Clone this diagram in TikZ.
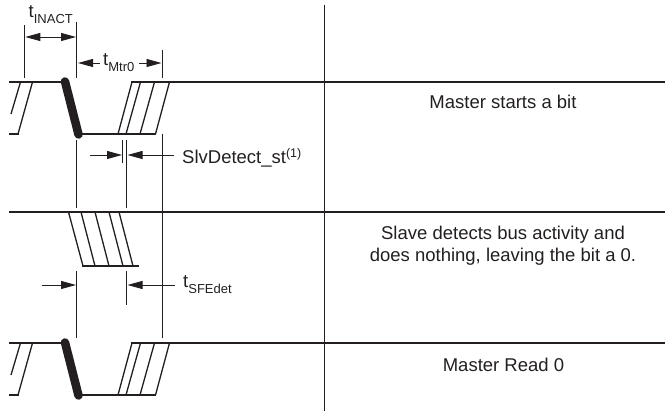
\documentclass[tikz,border=0pt]{standalone}
\usepackage{fontspec}
\setmainfont{Liberation Sans}
\usetikzlibrary{arrows.meta}
\definecolor{ink}{HTML}{231F20}
\newcommand{\lowsub}[1]{\raisebox{-6pt}{\fontsize{13}{13}\selectfont #1}}
\newcommand{\highsup}[1]{\raisebox{6pt}{\fontsize{12.5}{13}\selectfont #1}}
\tikzset{
  x=1pt,y=-1pt,
  bus/.style={line width=1.7pt,line cap=butt},
  thin line/.style={line width=0.95pt},
  edge line/.style={line width=1.3pt},
  thick edge/.style={line width=8.5pt,line cap=round},
  dim/.style={line width=0.85pt,-{Triangle[length=15pt,width=8pt]}},
  lab/.style={inner sep=0pt,text=ink,font=\fontsize{18.5}{22}\selectfont,align=center,anchor=base},
  tlab/.style={inner sep=0pt,text=ink,anchor=base west,font=\fontsize{18.5}{22}\selectfont}
}
\newcommand{\wave}[1]{%
 \begin{scope}[yshift=#1]
  \draw[bus] (9,82) -- (62,82);
  \draw[bus] (131,82) -- (665,82);
  \draw[bus] (80,134) -- (156,134);
  \draw[bus] (9,134) -- (18.5,134);
  \draw[edge line] (20.5,82) -- (11,114);
  \draw[edge line] (32.5,82) -- (18,134);
  \draw[thick edge] (65,81.5) -- (78.5,134.5);
  \draw[edge line] (132,82) -- (118,134);
  \draw[edge line] (140.5,82) -- (126,134);
  \draw[edge line] (154.5,82) -- (140,134);
  \draw[edge line] (169.5,82) -- (155.5,134);
 \end{scope}}
\begin{document}
\begin{tikzpicture}[color=ink]
\useasboundingbox (0,0) rectangle (665,411);
\wave{0pt}
\wave{-261pt}
% middle bus
\draw[bus] (9,212) -- (665,212);
\draw[edge line] (68.5,212) -- (83,266);
\draw[edge line] (81,212) -- (95,266);
\draw[edge line] (95,212) -- (109,266);
\draw[edge line] (109,212) -- (123,266);
\draw[edge line] (119,212) -- (133,266);
\draw[bus] (82,266) -- (138.5,266);
% divider
\draw[thin line] (324,5) -- (324,411);
% extension lines
\draw[thin line] (24.8,25) -- (24.8,78);
\draw[thin line] (76.5,22) -- (76.5,78);
\draw[thin line] (162,50) -- (162,78);
\draw[thin line] (162,134) -- (162,338);
\draw[thin line] (76.5,140) -- (76.5,208);
\draw[thin line] (126.5,140) -- (126.5,208);
\draw[thin line] (122.5,140) -- (122.5,163);
\draw[thin line] (76.5,271) -- (76.5,338);
\draw[thin line] (126.5,271) -- (126.5,305);
% labels
\node[tlab] (tinact) at (28.5,18) {t\lowsub{INACT}};
\node[tlab] (tmtr) at (103,66) {t\lowsub{Mtr0}};
\node[tlab] (slv) at (182,164) {SlvDetect\_st\highsup{(1)}};
\node[tlab] (tsfe) at (183,288) {t\lowsub{SFEdet}};
\node[lab] (m1) at (503,109) {Master starts a bit};
\node[lab] (m2a) at (503,240) {Slave detects bus activity and};
\node[lab] (m2b) at (503,262) {does nothing, leaving the bit a 0.};
\node[lab] (m3) at (503.5,372) {Master Read 0};
% dimension arrows
\coordinate (a1) at (25.3,37);
\coordinate (a2) at (76,37);
\draw[dim,{Triangle[length=15pt,width=8pt]}-{Triangle[length=15pt,width=8pt]}] (a1) -- (a2);
\coordinate (b0) at (100,63);
\coordinate (b1) at (78,63);
\coordinate (b3) at (139,63);
\coordinate (b2) at (161.5,63);
\draw[dim] (b0) -- (b1);
\draw[dim] (b3) -- (b2);
\coordinate (c0) at (90,155);
\coordinate (c1) at (122,155);
\coordinate (c3) at (174,155);
\coordinate (c2) at (127.5,155);
\draw[dim] (c0) -- (c1);
\draw[dim] (c3) -- (c2);
\coordinate (d0) at (42,285);
\coordinate (d1) at (76,285);
\coordinate (d3) at (175,285);
\coordinate (d2) at (127.5,285);
\draw[dim] (d0) -- (d1);
\draw[dim] (d3) -- (d2);
\end{tikzpicture}
\end{document}
